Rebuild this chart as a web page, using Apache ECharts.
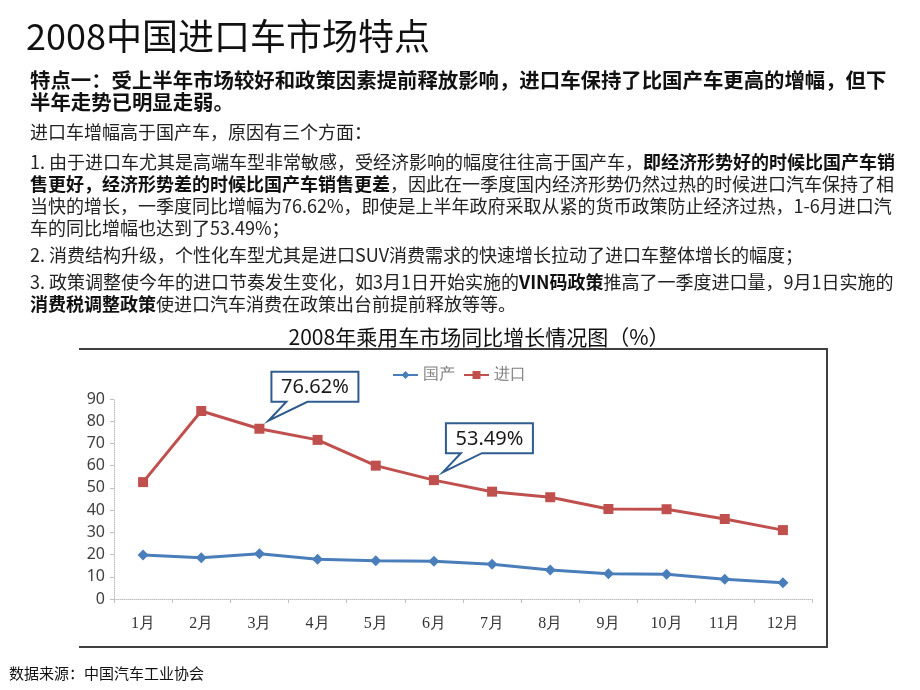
<!DOCTYPE html>
<html><head><meta charset="utf-8">
<script src="https://cdn.jsdelivr.net/npm/echarts@6/dist/echarts.min.js"></script>
<style>html,body{margin:0;padding:0;background:#fff}#c{width:920px;height:690px}</style>
</head><body><div id="c"></div>
<script>
const months = ['1月','2月','3月','4月','5月','6月','7月','8月','9月','10月','11月','12月'];
const domestic = [19.8,18.6,20.4,17.9,17.2,17.0,15.6,13.1,11.4,11.1,8.9,7.3];
const imported = [52.6,84.6,76.62,71.6,60.0,53.49,48.3,45.8,40.5,40.4,36.0,31.0];
const seriesNames = ['国产','进口'];
const callouts = [{idx:2,text:'76.62%'},{idx:5,text:'53.49%'}];
const yTicks = {min:0,max:90,interval:10};

const CJK = '"Noto Sans CJK SC","Noto Sans",sans-serif';
const SERIF = '"Liberation Serif","DejaVu Serif",serif';

const chart = echarts.init(document.getElementById('c'), null, {renderer:'canvas'});
chart.setOption({
  animation:false,
  backgroundColor:'#fff',
  grid:{left:114,right:108,top:399,bottom:91},
  legend:{
    left:387, top:362, itemWidth:25, itemHeight:10, itemGap:8,
    data:seriesNames,
    textStyle:{fontFamily:SERIF,fontSize:16,color:'#808080'}
  },
  xAxis:{
    type:'category', data:months, boundaryGap:true,
    axisLine:{lineStyle:{color:'#c0c0c0',type:'dotted',width:1}},
    axisTick:{show:true,length:4,lineStyle:{color:'#c0c0c0'}},
    axisLabel:{fontFamily:SERIF,fontSize:16,color:'#333',margin:17}
  },
  yAxis:{
    type:'value', min:yTicks.min, max:yTicks.max, interval:yTicks.interval,
    splitLine:{show:false},
    axisLine:{show:true,lineStyle:{color:'#c0c0c0',type:'dotted',width:1}},
    axisTick:{show:true,length:4,lineStyle:{color:'#c0c0c0'}},
    axisLabel:{fontFamily:'"Noto Sans",sans-serif',fontSize:16,color:'#404040',margin:9}
  },
  series:[
    {name:seriesNames[0],type:'line',data:domestic,symbol:'diamond',symbolSize:11,
     lineStyle:{color:'#4A7EBB',width:3},itemStyle:{color:'#4A7EBB'}},
    {name:seriesNames[1],type:'line',data:imported,symbol:'rect',symbolSize:10,
     lineStyle:{color:'#C0504D',width:3},itemStyle:{color:'#C0504D'}}
  ]
});

const g = [];
g.push({type:'text',left:26,top:18,style:{text:'2008中国进口车市场特点',font:'36px '+CJK,fill:'#111'}});
const lines = [
  {y:70, rich:[['b','特点一：受上半年市场较好和政策因素提前释放影响，进口车保持了比国产车更高的增幅，但下']]},
  {y:92, rich:[['b','半年走势已明显走弱。']]},
  {y:123, rich:[['n','进口车增幅高于国产车，原因有三个方面：']]},
  {y:153, rich:[['n','1. 由于进口车尤其是高端车型非常敏感，受经济影响的幅度往往高于国产车，'],['m','即经济形势好的时候比国产车销']]},
  {y:175, rich:[['m','售更好，经济形势差的时候比国产车销售更差'],['n','，因此在一季度国内经济形势仍然过热的时候进口汽车保持了相']]},
  {y:197, rich:[['n','当快的增长，一季度同比增幅为76.62%，即使是上半年政府采取从紧的货币政策防止经济过热，1-6月进口汽']]},
  {y:219, rich:[['n','车的同比增幅也达到了53.49%；']]},
  {y:246, rich:[['n','2. 消费结构升级，个性化车型尤其是进口SUV消费需求的快速增长拉动了进口车整体增长的幅度；']]},
  {y:273, rich:[['n','3. 政策调整使今年的进口节奏发生变化，如3月1日开始实施的'],['m','VIN码政策'],['n','推高了一季度进口量，9月1日实施的']]},
  {y:295, rich:[['m','消费税调整政策'],['n','使进口汽车消费在政策出台前提前释放等等。']]}
];
lines.forEach(l=>{
  g.push({type:'text',left:30,top:l.y,style:{
    text:l.rich.map(r=>'{'+r[0]+'|'+r[1]+'}').join(''),
    rich:{
      b:{fontFamily:CJK,fontSize:20.4,fontWeight:'bold',fill:'#111'},
      n:{fontFamily:CJK,fontSize:18,fill:'#222'},
      m:{fontFamily:CJK,fontSize:18,fontWeight:'bold',fill:'#111'}
    }}});
});
g.push({type:'text',x:479,y:337,style:{text:'2008年乘用车市场同比增长情况图（%）',font:'21px '+CJK,fill:'#111',align:'center',verticalAlign:'middle'}});
g.push({type:'polyline',shape:{points:[[79,349],[827,349],[827,647],[79,647]]},style:{stroke:'#404040',lineWidth:2,fill:null}});
g.push({type:'text',left:9,top:666,style:{text:'数据来源：中国汽车工业协会',font:'15px '+CJK,fill:'#111'}});

callouts.forEach(c=>{
  const p = chart.convertToPixel({seriesIndex:1},[c.idx, imported[c.idx]]);
  const px=p[0], py=p[1];
  const W=87,H=30,L=px+12,B=py-27,tx=px+9,ty=py-8;
  g.push({type:'polygon',shape:{points:[[L,B-H],[L+W,B-H],[L+W,B],[L+36,B],[tx,ty],[L+15,B],[L,B]]},
    style:{fill:'#fff',stroke:'#2F5C8F',lineWidth:2},z:10});
  g.push({type:'text',x:L+W/2,y:B-H/2+1,style:{text:c.text,font:'20px "Noto Sans",sans-serif',fill:'#1a1a1a',align:'center',verticalAlign:'middle'},z:11});
});
chart.setOption({graphic:g});
</script></body></html>
